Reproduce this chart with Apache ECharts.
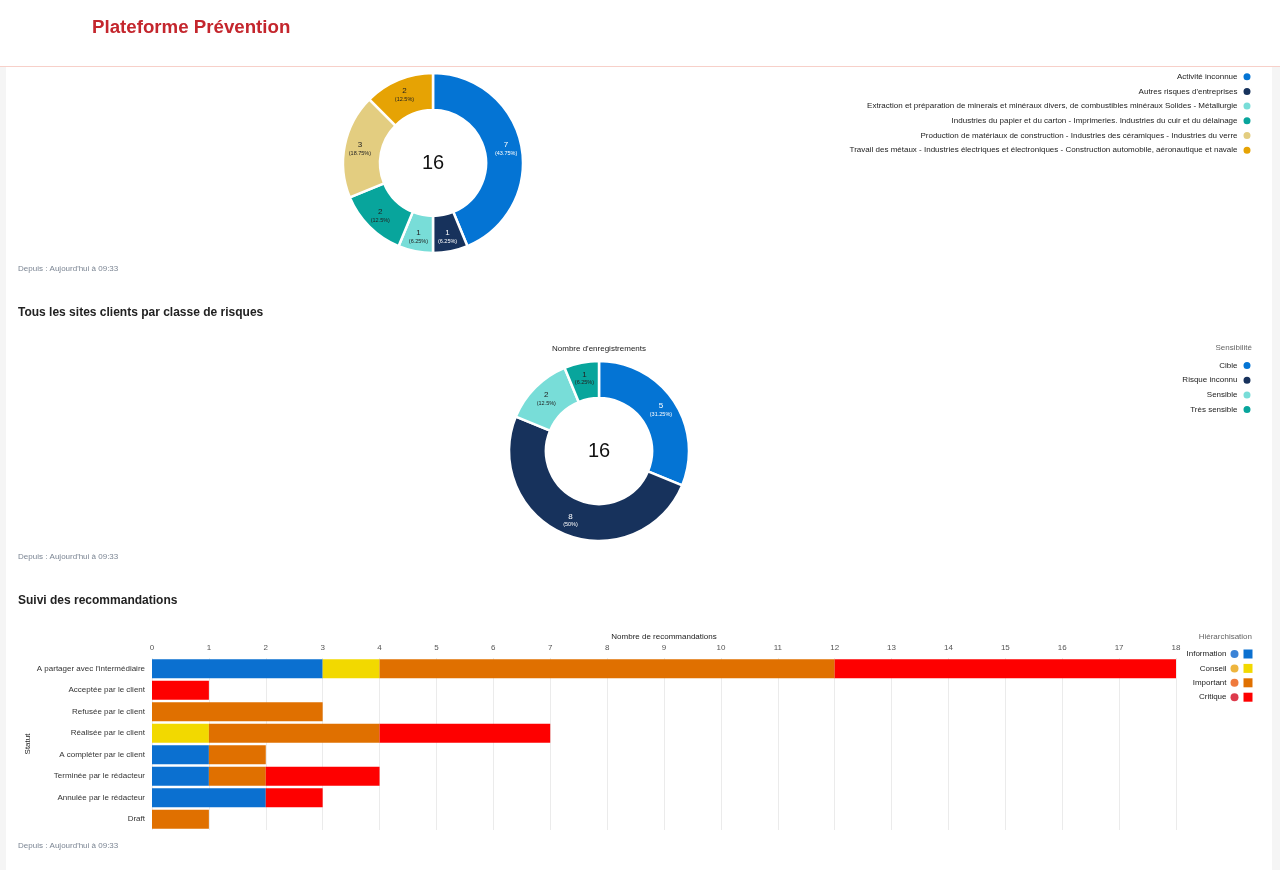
<!DOCTYPE html>
<html>
<head>
<meta charset="utf-8">
<script src="https://cdn.jsdelivr.net/npm/echarts@6/dist/echarts.min.js"></script>
<style>
    html, body { margin: 0; padding: 0; background: #f5f5f5; }
    #app { width: 1280px; height: 870px; }
</style>
</head>
<body>
<div id="app"></div>
<script>
//activités
var activites = [
    'Activité inconnue',
    'Autres risques d\'entreprises',
    'Extraction et préparation de minerais et minéraux divers, de combustibles minéraux Solides - Métallurgie',
    'Industries du papier et du carton - Imprimeries. Industries du cuir et du délainage',
    'Production de matériaux de construction - Industries des céramiques - Industries du verre',
    'Travail des métaux - Industries électriques et électroniques - Construction automobile, aéronautique et navale'
]
var activiteValeurs = [7, 1, 1, 2, 3, 2]

//sensibilité
var sensibilites = ['Cible', 'Risque inconnu', 'Sensible', 'Très sensible']
var sensibiliteValeurs = [5, 8, 2, 1]

//recommandations
var statuts = [
    'A partager avec l\'intermédiaire',
    'Acceptée par le client',
    'Refusée par le client',
    'Réalisée par le client',
    'A compléter par le client',
    'Terminée par le rédacteur',
    'Annulée par le rédacteur',
    'Draft'
]
var niveaux = ['Information', 'Conseil', 'Important', 'Critique']
var information = [3, 0, 0, 0, 1, 1, 2, 0]
var conseil = [1, 0, 0, 1, 0, 0, 0, 0]
var important = [8, 0, 3, 3, 1, 1, 0, 1]
var critique = [6, 1, 0, 3, 0, 2, 1, 0]

var couleursPie = ['#0474d4', '#17325c', '#78ddd8', '#08a59c', '#e3cd80', '#e6a304']
var couleursBar = ['#0b70d0', '#f2d900', '#e07000', '#fe0000']
var couleursPoint = ['#3b83d6', '#eeb53e', '#ef7a3c', '#dd3a4c']

var font = '"Liberation Sans", Arial, sans-serif'

var sombre = ['#0474d4', '#17325c']

var pieData = (noms, valeurs) => {
    var total = valeurs.reduce((a, b) => a + b, 0)
    return noms.map((n, i) => ({
        name: n,
        value: valeurs[i],
        pct: +(valeurs[i] / total * 100).toFixed(2),
        itemStyle: {color: couleursPie[i]},
        label: {color: sombre.indexOf(couleursPie[i]) >= 0 ? '#fff' : '#222'}
    }))
}

var pieSerie = (noms, valeurs, center) => ({
    type: 'pie',
    center: center,
    radius: [53, 90],
    startAngle: 90,
    clockwise: true,
    avoidLabelOverlap: false,
    itemStyle: {borderColor: '#fff', borderWidth: 2.5},
    emphasis: {disabled: true},
    label: {
        show: true,
        position: 'inside',
        fontFamily: font,
        formatter: (p) => `{v|${p.value}}\n{p|(${p.data.pct}%)}`,
        rich: {
            v: {fontSize: 8, lineHeight: 10, fontFamily: font},
            p: {fontSize: 5.5, lineHeight: 7, fontFamily: font}
        }
    },
    labelLine: {show: false},
    data: pieData(noms, valeurs)
})

var texte = (x, y, t, size, color, weight, align) => ({
    type: 'text',
    x: x,
    y: y,
    style: {
        text: t,
        fontSize: size,
        fill: color,
        fontWeight: weight || 'normal',
        fontFamily: font,
        align: align || 'left',
        verticalAlign: 'middle'
    }
})

var legende = (data, top, icon, gap) => ({
    data: data,
    orient: 'vertical',
    right: 27.5,
    top: top,
    padding: 0,
    align: 'right',
    icon: icon,
    itemWidth: 9,
    itemHeight: 9,
    itemGap: gap,
    selectedMode: false,
    textStyle: {fontSize: 8, color: '#222', fontFamily: font}
})

var barSerie = (nom, data, i) => ({
    name: nom,
    type: 'bar',
    stack: 'total',
    barWidth: 19,
    itemStyle: {color: couleursBar[i]},
    emphasis: {disabled: true},
    data: data
})

var chart = echarts.init(document.getElementById('app'))

var richPoints = {}
couleursPoint.forEach((c, i) => {
    richPoints['d' + i] = {width: 8, height: 8, borderRadius: 4, backgroundColor: c}
})
richPoints.t = {fontSize: 8, fontFamily: font, color: '#222', padding: [0, 4, 0, 0]}

var legendeNiveaux = legende(niveaux, 649.5, 'rect', 5.4)
legendeNiveaux.formatter = (n) => `{t|${n}}{d${niveaux.indexOf(n)}|}`
legendeNiveaux.textStyle.rich = richPoints

chart.setOption({
    backgroundColor: '#f5f5f5',
    animation: false,
    graphic: [
        {type: 'rect', shape: {x: 0, y: 0, width: 1280, height: 66}, style: {fill: '#fff'}, z: -10},
        {type: 'rect', shape: {x: 6, y: 67, width: 1266, height: 803}, style: {fill: '#fff'}, z: -10},
        {type: 'line', shape: {x1: 0, y1: 66.5, x2: 1280, y2: 66.5}, style: {stroke: '#f7d0c9', lineWidth: 1}, z: -5},
        texte(92, 28, 'Plateforme Prévention', 18.7, '#c4262d', 'bold'),
        texte(433, 163, '16', 20, '#111', 'normal', 'center'),
        texte(18, 269, 'Depuis : Aujourd\'hui à 09:33', 8, '#7b8593'),
        texte(18, 313, 'Tous les sites clients par classe de risques', 12, '#222', 'bold'),
        texte(599, 349, 'Nombre d\'enregistrements', 8, '#222', 'normal', 'center'),
        texte(599, 451, '16', 20, '#111', 'normal', 'center'),
        texte(1252, 348, 'Sensibilité', 8, '#666', 'normal', 'right'),
        texte(18, 557, 'Depuis : Aujourd\'hui à 09:33', 8, '#7b8593'),
        texte(18, 601, 'Suivi des recommandations', 12, '#222', 'bold'),
        texte(1252, 637, 'Hiérarchisation', 8, '#666', 'normal', 'right'),
        texte(18, 846, 'Depuis : Aujourd\'hui à 09:33', 8, '#7b8593')
    ],
    legend: [
        legende(activites, 71.2, 'circle', 3.7),
        legende(sensibilites, 360, 'circle', 3.7),
        legendeNiveaux
    ],
    grid: {left: 152, right: 104, top: 658, bottom: 40},
    xAxis: {
        type: 'value',
        position: 'top',
        min: 0,
        max: 18,
        interval: 1,
        name: 'Nombre de recommandations',
        nameLocation: 'middle',
        nameGap: 17,
        nameTextStyle: {fontSize: 8, color: '#222', fontFamily: font},
        axisLine: {show: false},
        axisTick: {show: false},
        axisLabel: {fontSize: 8, color: '#555', margin: 6, fontFamily: font},
        splitLine: {lineStyle: {color: '#ebebeb'}}
    },
    yAxis: {
        type: 'category',
        inverse: true,
        data: statuts,
        name: 'Statut',
        nameLocation: 'middle',
        nameRotate: 90,
        nameGap: 120,
        nameMoveOverlap: false,
        nameTextStyle: {fontSize: 8, color: '#222', fontFamily: font},
        axisLine: {show: false},
        axisTick: {show: false},
        axisLabel: {fontSize: 8, color: '#333', margin: 7, fontFamily: font}
    },
    series: [
        pieSerie(activites, activiteValeurs, [433, 163]),
        pieSerie(sensibilites, sensibiliteValeurs, [599, 451]),
        barSerie(niveaux[0], information, 0),
        barSerie(niveaux[1], conseil, 1),
        barSerie(niveaux[2], important, 2),
        barSerie(niveaux[3], critique, 3)
    ]
})
</script>
</body>
</html>
